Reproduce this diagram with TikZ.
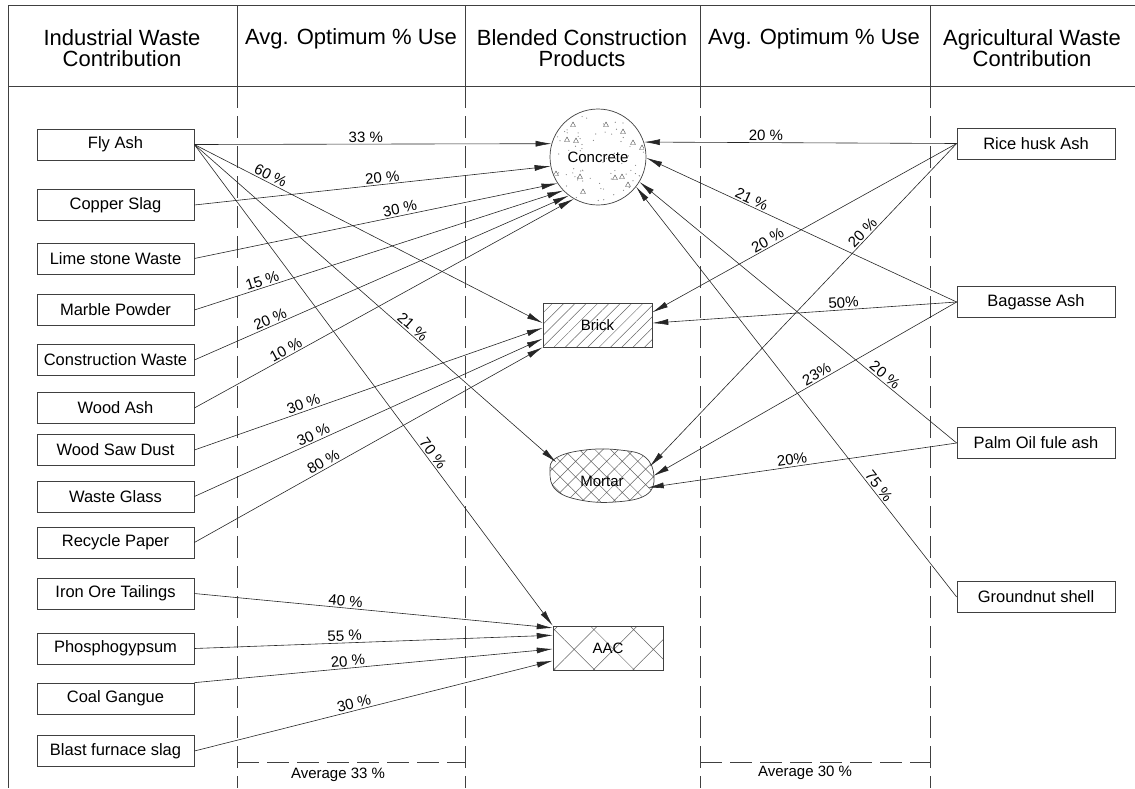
\documentclass[tikz,border=0pt]{standalone}
\usepackage{fontspec}
\setmainfont{Liberation Sans}
\usetikzlibrary{arrows.meta,patterns.meta,shapes.geometric}
\begin{document}
\begin{tikzpicture}[x=1pt,y=-1pt,
  frame/.style={line width=0.8pt, draw=black!75},
  dsh/.style={frame, dash pattern=on 22pt off 8pt},
  src/.style={draw=black!75, line width=0.7pt, minimum width=157pt, minimum height=31pt, inner sep=0pt, font=\fontsize{16.5}{18}\selectfont},
  hdr/.style={align=center, font=\fontsize{22}{21.5}\selectfont, inner sep=0pt},
  lbl/.style={font=\fontsize{15}{16}\selectfont, inner sep=1.5pt},
  prod/.style={draw=black!75, line width=0.7pt, inner sep=0pt, font=\fontsize{15}{16}\selectfont},
  arr/.style={line width=0.6pt, draw=black!85, -{Latex[length=16pt,width=6pt]}},
]
\useasboundingbox (0,0) rectangle (1135,788);

% frame
\draw[frame] (8,5) -- (1135,5);
\draw[frame] (8,86) -- (1135,86);
\draw[frame] (8,5) -- (8,788);
\foreach \x in {237,465,700,930} \draw[frame] (\x,5) -- (\x,86);
\foreach \x in {237,465,700,930} \draw[dsh] (\x,86) -- (\x,788);
\draw[dsh] (237,762) -- (465,762);
\draw[dsh] (700,762) -- (930,762);

% headers
\node[hdr] (h1) at (122,48) {Industrial Waste\\Contribution};
\node[hdr] (h2) at (351,39) {Avg. Optimum \% Use};
\node[hdr] (h3) at (582,48) {Blended Construction\\Products};
\node[hdr] (h4) at (814,39) {Avg. Optimum \% Use};
\node[hdr] (h5) at (1032,48) {Agricultural Waste\\Contribution};

\node[lbl] (av1) at (338,775) {Average 33 \%};
\node[lbl] (av2) at (805,773) {Average 30 \%};

% left sources
\node[src] (fly)     at (115.5,144.5) {Fly Ash};
\node[src] (copper)  at (115.5,205)   {Copper Slag};
\node[src] (lime)    at (115.5,258.5) {Lime stone Waste};
\node[src] (marble)  at (115.5,310)   {Marble Powder};
\node[src] (constr)  at (115.5,360)   {Construction Waste};
\node[src] (woodash) at (115.5,408)   {Wood Ash};
\node[src] (sawdust) at (115.5,450)   {Wood Saw Dust};
\node[src] (glass)   at (115.5,496.5) {Waste Glass};
\node[src] (paper)   at (115.5,542.5) {Recycle Paper};
\node[src] (iron)    at (115.5,593.5) {Iron Ore Tailings};
\node[src] (phos)    at (115.5,648.5) {Phosphogypsum};
\node[src] (coal)    at (115.5,698.5) {Coal Gangue};
\node[src] (blast)   at (115.5,751)   {Blast furnace slag};

% right sources
\node[src, minimum width=158pt] (rice)    at (1036,143.5) {Rice husk Ash};
\node[src, minimum width=158pt] (bagasse) at (1036,302)   {Bagasse Ash};
\node[src, minimum width=158pt] (palm)    at (1036,443)   {Palm Oil fule ash};
\node[src, minimum width=158pt] (ground)  at (1036,597)   {Groundnut shell};

% concrete texture
\begin{scope}
  \clip (598,157) circle (47);
  \pgfmathsetseed{42}
  \foreach \i in {1,...,70}{
    \pgfmathsetmacro{\aa}{rnd*360}
    \pgfmathsetmacro{\rr}{sqrt(rnd)*46}
    \fill[black!50] (598,157) ++(\aa:\rr) circle (0.6);
  }
  \foreach \a/\b in {573/125,606/125,623/132,567/140,576/141,633/143,642/148,556/174,580/177,615/178,622/177,628/185,583/192}
    \draw[black!70, line width=0.4pt] (\a,\b) ++(-2.5,1.5) -- ++(5,0) -- ++(-2.5,-4.5) -- cycle;
\end{scope}
\node[prod, circle, minimum size=96pt] (concrete) at (598,157) {Concrete};

% brick
\node[prod, rectangle, minimum width=109pt, minimum height=44pt,
  pattern={Lines[angle=45,distance=8pt,line width=0.5pt]}, pattern color=black!60] (brick) at (597.5,325) {Brick};

% mortar
\draw[draw=black!75, line width=0.7pt, pattern={Hatch[angle=45,distance=11pt,line width=0.5pt]}, pattern color=black!60]
  plot[smooth cycle, tension=0.7] coordinates {(556,458) (585,450) (620,450) (645,457) (654,477) (646,495) (615,502) (580,500) (556,490) (550,472)};
\node[ellipse, inner sep=0pt, minimum width=104pt, minimum height=52pt] (mortar) at (601,476) {};
\node[font=\fontsize{15}{16}\selectfont, inner sep=0pt] (mortartxt) at (602,481) {Mortar};

% AAC
\node[prod, rectangle, minimum width=110pt, minimum height=44pt,
  pattern={Hatch[angle=45,distance=28pt,line width=0.5pt]}, pattern color=black!60] (aac) at (608,648) {AAC};

% left connectors
\draw[arr] (fly.east) -- node[lbl,pos=0.48,above,sloped]{33 \%} (concrete.164);
\draw[arr] (fly.east) -- node[lbl,pos=0.21,above,sloped]{60 \%} (brick.178);
\draw[arr] (fly.east) -- node[lbl,pos=0.59,above,sloped]{21 \%} (mortar.163);
\draw[arr] (fly.east) -- node[lbl,pos=0.65,above,sloped]{70 \%} (aac.north west);
\draw[arr] (copper.east) -- node[lbl,pos=0.53,above,sloped]{20 \%} (concrete.191);
\draw[arr] (lime.east) -- node[lbl,pos=0.57,above,sloped]{30 \%} (concrete.213);
\draw[arr] (marble.east) -- node[lbl,pos=0.19,above,sloped]{15 \%} (concrete.224);
\draw[arr] (constr.east) -- node[lbl,pos=0.21,above,sloped]{20 \%} (concrete.233);
\draw[arr] (woodash.east) -- node[lbl,pos=0.25,above,sloped]{10 \%} (concrete.240);
\draw[arr] (sawdust.east) -- node[lbl,pos=0.32,above,sloped]{30 \%} (brick.183);
\draw[arr] (glass.east) -- node[lbl,pos=0.35,above,sloped]{30 \%} (brick.194);
\draw[arr] (paper.east) -- node[lbl,pos=0.38,above,sloped]{80 \%} (brick.south west);
\draw[arr] (iron.east) -- node[lbl,pos=0.42,above,sloped]{40 \%} (aac.160);
\draw[arr] (phos.east) -- node[lbl,pos=0.42,above,sloped]{55 \%} (aac.167);
\draw[arr] (coal.north east) -- node[lbl,pos=0.43,above,sloped]{20 \%} (aac.181);
\draw[arr] (blast.east) -- node[lbl,pos=0.45,above,sloped]{30 \%} (aac.193);

% right connectors
\draw[arr] (rice.west) -- node[lbl,pos=0.61,above,sloped]{20 \%} (concrete.18);
\draw[arr] (rice.west) -- node[lbl,pos=0.61,above,sloped]{20 \%} (brick.13);
\draw[arr] (rice.west) -- node[lbl,pos=0.29,above,sloped]{20 \%} (mortar.11);
\draw[arr] (bagasse.west) -- node[lbl,pos=0.67,above,sloped]{21 \%} (concrete.-1);
\draw[arr] (bagasse.west) -- node[lbl,pos=0.37,above,sloped]{50\%} (brick.2);
\draw[arr] (bagasse.west) -- node[lbl,pos=0.45,above,sloped]{23\%} (mortar.0);
\draw[arr] (palm.west) -- node[lbl,pos=0.24,above,sloped]{20 \%} (concrete.-31);
\draw[arr] (palm.west) -- node[lbl,pos=0.53,above,sloped]{20\%} (mortar.-14);
\draw[arr] (ground.west) -- node[lbl,pos=0.26,above,sloped]{75 \%} (concrete.-38);
\end{tikzpicture}
\end{document}
